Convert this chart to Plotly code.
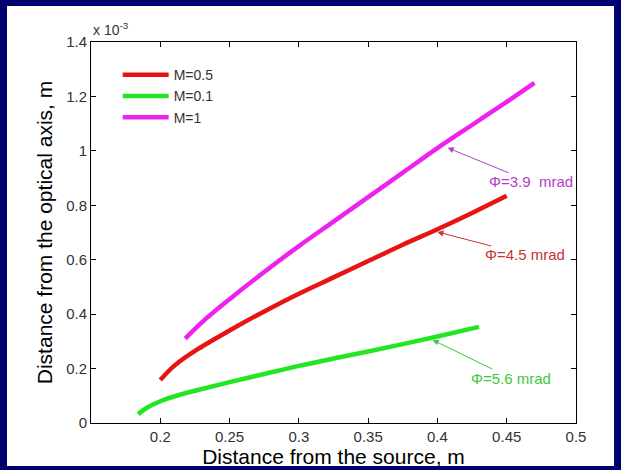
import plotly.graph_objects as go

# x: distance from the source (m); y: distance from optical axis (x 10^-3 m)
x_m1 = [0.218, 0.23, 0.25, 0.275, 0.30, 0.325, 0.35, 0.375, 0.40, 0.425, 0.45, 0.47]
y_m1 = [0.31, 0.37, 0.455, 0.555, 0.65, 0.74, 0.83, 0.92, 1.01, 1.095, 1.18, 1.25]

x_m05 = [0.200, 0.21, 0.225, 0.25, 0.275, 0.30, 0.325, 0.35, 0.375, 0.40, 0.425, 0.45]
y_m05 = [0.158, 0.21, 0.265, 0.34, 0.41, 0.475, 0.535, 0.595, 0.655, 0.712, 0.772, 0.835]

x_m01 = [0.184, 0.19, 0.20, 0.215, 0.23, 0.25, 0.275, 0.30, 0.325, 0.35, 0.375, 0.40, 0.43]
y_m01 = [0.032, 0.055, 0.08, 0.105, 0.125, 0.15, 0.18, 0.21, 0.237, 0.263, 0.29, 0.318, 0.353]

x_ticks = [0.2, 0.25, 0.3, 0.35, 0.4, 0.45, 0.5]
x_ticktext = ["0.2", "0.25", "0.3", "0.35", "0.4", "0.45", "0.5"]
y_ticks = [0, 0.2, 0.4, 0.6, 0.8, 1.0, 1.2, 1.4]
y_ticktext = ["0", "0.2", "0.4", "0.6", "0.8", "1", "1.2", "1.4"]

RED = "#e81414"
GREEN = "#22e622"
MAG = "#ee22ee"

fig = go.Figure()
fig.add_trace(go.Scatter(x=x_m05, y=y_m05, mode="lines", name="M=0.5",
                         line=dict(color=RED, width=4.5, shape="spline")))
fig.add_trace(go.Scatter(x=x_m01, y=y_m01, mode="lines", name="M=0.1",
                         line=dict(color=GREEN, width=4.5, shape="spline")))
fig.add_trace(go.Scatter(x=x_m1, y=y_m1, mode="lines", name="M=1",
                         line=dict(color=MAG, width=4.5, shape="spline")))

font_main = "Liberation Sans, Arial, sans-serif"

annots = [
    dict(x=0.4074, y=1.011, ax=83, ay=34, text="Φ=3.9  mrad", color="#b33cc8"),
    dict(x=0.400, y=0.702, ax=88, ay=23, text="Φ=4.5 mrad", color="#c83232"),
    dict(x=0.3966, y=0.305, ax=78, ay=38, text="Φ=5.6 mrad", color="#3cc83c"),
]
for a in annots:
    fig.add_annotation(x=a["x"], y=a["y"], xref="x", yref="y",
                       ax=a["ax"], ay=a["ay"], axref="pixel", ayref="pixel",
                       text=a["text"], showarrow=True, arrowhead=2, arrowsize=1.2,
                       arrowwidth=1, arrowcolor=a["color"],
                       font=dict(family=font_main, size=15, color=a["color"]),
                       bgcolor="white", borderpad=0)

fig.add_annotation(x=0, y=1.0, xref="paper", yref="paper", xanchor="left", yanchor="bottom",
                   text="x 10<sup>-3</sup>", showarrow=False, yshift=2,
                   font=dict(family=font_main, size=14, color="#333333"))

# white inner panel on navy frame
fig.add_shape(type="rect", xref="paper", yref="paper",
              x0=-0.1732, x1=1.0784, y0=-0.1129, y1=1.0945,
              fillcolor="white", line=dict(width=0), layer="below")

fig.update_layout(
    width=621, height=470,
    margin=dict(l=91, r=45, t=42, b=47),
    paper_bgcolor="#000070",
    plot_bgcolor="white",
    font=dict(family=font_main, size=15, color="#333333"),
    showlegend=True,
    legend=dict(x=0.055, y=0.955, xanchor="left", yanchor="top",
                bgcolor="rgba(0,0,0,0)", font=dict(size=14, color="#333333"),
                tracegroupgap=0, itemwidth=46),
)
fig.update_xaxes(range=[0.15, 0.5], tickvals=x_ticks, ticktext=x_ticktext,
                 showgrid=False, zeroline=False, showline=True, linecolor="black",
                 linewidth=1, mirror="ticks", ticks="inside", ticklen=5, tickcolor="black",
                 automargin=False, tickfont=dict(size=15),
                 title=dict(text="Distance from the source, m",
                            font=dict(size=21, color="black"), standoff=2))
fig.update_yaxes(range=[0, 1.4], tickvals=y_ticks, ticktext=y_ticktext,
                 showgrid=False, zeroline=False, showline=True, linecolor="black",
                 linewidth=1, mirror="ticks", ticks="inside", ticklen=5, tickcolor="black",
                 automargin=False, tickfont=dict(size=15),
                 title=dict(text="Distance from the optical axis, m",
                            font=dict(size=21, color="black"), standoff=7))

fig.write_html("out.html")
